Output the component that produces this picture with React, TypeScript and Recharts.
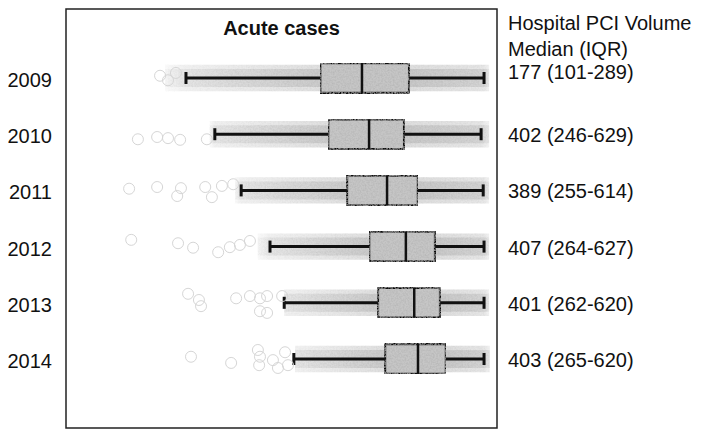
import React from 'react';
import { ComposedChart, XAxis, YAxis, Scatter, ReferenceArea, ReferenceLine } from 'recharts';

const title = 'Acute cases';
const years = ['2009', '2010', '2011', '2012', '2013', '2014'];
const rows = [1, 2, 3, 4, 5, 6];
const whiskerLow = [28.7, 35.6, 41.9, 48.8, 52.2, 54.5];
const quartile1 = [60.8, 62.7, 67.2, 72.5, 74.6, 76.3];
const medians = [70.8, 72.5, 76.8, 81.3, 83.3, 84.2];
const quartile3 = [82.1, 80.9, 84.2, 88.3, 89.5, 90.9];
const whiskerHigh = [100, 99.3, 99.8, 100, 100, 100];
const cloudStart = [23.7, 34.4, 40.4, 45.9, 52.2, 54.8];
const cloudEnd = [101.2, 101.2, 101.2, 101.2, 101.2, 101.4];
const headerLines = ['Hospital PCI Volume', 'Median (IQR)'];
const volumeLabels = ['177 (101-289)', '402 (246-629)', '389 (255-614)', '407 (264-627)', '401 (262-620)', '403 (265-620)'];
const outlierValues = [
  [22.5, 24.4, 26.3],
  [17.2, 21.8, 24.4, 27.3, 33.7],
  [15.1, 21.8, 27.5, 26.6, 33.3, 34.9, 37.3, 40.0],
  [15.6, 26.8, 30.4, 36.4, 39.2, 41.6, 44.0],
  [29.2, 31.8, 32.3, 40.7, 44.0, 46.4, 48.1, 46.4, 48.1, 51.7],
  [29.9, 39.5, 45.9, 46.4, 46.2, 49.5, 50.7, 52.4, 53.1],
];
const outlierJitter = [
  [-0.04, 0.04, -0.09],
  [0.09, 0.05, 0.07, 0.1, 0.09],
  [-0.03, -0.06, -0.04, 0.1, -0.06, 0.12, -0.08, -0.11],
  [-0.12, -0.06, 0.02, 0.1, 0.01, -0.03, -0.1],
  [-0.16, -0.05, 0.06, -0.08, -0.12, -0.08, -0.12, 0.15, 0.18, -0.12],
  [-0.04, 0.07, -0.16, -0.04, 0.11, 0.02, 0.16, -0.12, 0.11],
];

const X_DOMAIN: [number, number] = [0, 103.1];
const Y_DOMAIN: [number, number] = [-0.228, 7.228];
const FONT = '"Liberation Sans", Arial, Helvetica, sans-serif';
const BOX_HALF = 0.267;
const CAP_HALF = 0.107;
const CLOUD_OUTER = 0.235;
const CLOUD_INNER = 0.16;

const outlierData = rows.flatMap((r, i) =>
  outlierValues[i].map((v, j) => ({ x: v, y: r + outlierJitter[i][j] }))
);

const OpenCircle = (props: any) => {
  const { cx, cy } = props;
  if (cx == null || cy == null) return null;
  return <circle cx={cx} cy={cy} r={5.5} fill="none" stroke="#d6d6d6" strokeWidth={1} />;
};

const YearTick = (props: any) => {
  const { x, y, payload } = props;
  const idx = rows.indexOf(payload.value);
  if (idx < 0) return null;
  return (
    <text x={x - 3} y={y + 2} textAnchor="end" dominantBaseline="central" fontFamily={FONT} fontSize={20} fill="#111">
      {years[idx]}
    </text>
  );
};

const VolumeTick = (props: any) => {
  const { x, y, payload } = props;
  const idx = rows.indexOf(payload.value);
  if (idx < 0) return null;
  const common = { x, textAnchor: 'start' as const, dominantBaseline: 'central' as const, fontFamily: FONT, fontSize: 20, fill: '#111' };
  if (idx === 0) {
    return (
      <g>
        <text {...common} y={y - 55}>{headerLines[0]}</text>
        <text {...common} y={y - 29}>{headerLines[1]}</text>
        <text {...common} y={y - 6}>{volumeLabels[0]}</text>
      </g>
    );
  }
  return <text {...common} y={y + 1}>{volumeLabels[idx]}</text>;
};

function stopOffset(v: number, i: number) {
  const o = (v - cloudStart[i]) / (cloudEnd[i] - cloudStart[i]);
  return Math.max(0, Math.min(1, o));
}

export default function App() {
  return (
    <div style={{ position: 'absolute', left: 0, top: 0 }}>
      <ComposedChart width={706} height={438} margin={{ top: 9, right: 0, bottom: 10, left: 0 }}>
        <defs>
          {rows.map((r, i) => (
            <linearGradient key={r} id={`cloud${i}`} x1="0" y1="0" x2="1" y2="0">
              <stop offset={0} stopColor="#999" stopOpacity={0.05} />
              <stop offset={stopOffset(whiskerLow[i], i)} stopColor="#999" stopOpacity={0.14} />
              <stop offset={stopOffset(quartile1[i], i)} stopColor="#999" stopOpacity={0.3} />
              <stop offset={stopOffset(quartile3[i], i)} stopColor="#999" stopOpacity={0.32} />
              <stop offset={stopOffset(whiskerHigh[i], i)} stopColor="#999" stopOpacity={0.24} />
              <stop offset={1} stopColor="#999" stopOpacity={0.12} />
            </linearGradient>
          ))}
          <filter id="speckle" x="0" y="0" width="1" height="1">
            <feTurbulence type="fractalNoise" baseFrequency="0.6" numOctaves="2" seed="3" result="noise" />
            <feColorMatrix in="noise" type="matrix" values="0 0 0 0 0.45  0 0 0 0 0.45  0 0 0 0 0.45  0 0 0 1.5 -0.5" result="grain" />
            <feComposite in="grain" in2="SourceGraphic" operator="in" result="tex" />
            <feMerge>
              <feMergeNode in="SourceGraphic" />
              <feMergeNode in="tex" />
            </feMerge>
          </filter>
        </defs>
        <XAxis type="number" dataKey="x" domain={X_DOMAIN} hide allowDataOverflow />
        <YAxis
          yAxisId="left"
          type="number"
          dataKey="y"
          domain={Y_DOMAIN}
          reversed
          ticks={rows}
          width={66}
          axisLine={false}
          tickLine={false}
          tick={<YearTick />}
          tickMargin={5}
          allowDataOverflow
        />
        <YAxis
          yAxisId="right"
          orientation="right"
          type="number"
          domain={Y_DOMAIN}
          reversed
          ticks={rows}
          width={209}
          axisLine={false}
          tickLine={false}
          tick={<VolumeTick />}
          tickMargin={5}
          allowDataOverflow
        />
        {rows.map((r, i) => (
          <ReferenceArea
            key={`cloudo-${r}`}
            yAxisId="left"
            x1={cloudStart[i]}
            x2={cloudEnd[i]}
            y1={r - CLOUD_OUTER}
            y2={r + CLOUD_OUTER}
            fill={`url(#cloud${i})`}
            fillOpacity={1}
            stroke="none"
            filter="url(#speckle)"
            ifOverflow="visible"
          />
        ))}
        {rows.map((r, i) => (
          <ReferenceArea
            key={`cloudi-${r}`}
            yAxisId="left"
            x1={cloudStart[i]}
            x2={cloudEnd[i]}
            y1={r - CLOUD_INNER}
            y2={r + CLOUD_INNER}
            fill={`url(#cloud${i})`}
            fillOpacity={1}
            stroke="none"
            filter="url(#speckle)"
            ifOverflow="visible"
          />
        ))}
        <Scatter yAxisId="left" data={outlierData} shape={<OpenCircle />} isAnimationActive={false} />
        {rows.map((r, i) => (
          <ReferenceArea
            key={`box-${r}`}
            yAxisId="left"
            x1={quartile1[i]}
            x2={quartile3[i]}
            y1={r - BOX_HALF}
            y2={r + BOX_HALF}
            fill="#c6c6c6"
            fillOpacity={1}
            stroke="#111"
            strokeWidth={2.5}
            radius={2}
            filter="url(#speckle)"
            ifOverflow="visible"
          />
        ))}
        {rows.map((r, i) => (
          <ReferenceLine key={`wl-${r}`} yAxisId="left" segment={[{ x: whiskerLow[i], y: r }, { x: quartile1[i], y: r }]} stroke="#111" strokeWidth={3} ifOverflow="visible" />
        ))}
        {rows.map((r, i) => (
          <ReferenceLine key={`wh-${r}`} yAxisId="left" segment={[{ x: quartile3[i], y: r }, { x: whiskerHigh[i], y: r }]} stroke="#111" strokeWidth={3} ifOverflow="visible" />
        ))}
        {rows.map((r, i) => (
          <ReferenceLine key={`cl-${r}`} yAxisId="left" segment={[{ x: whiskerLow[i], y: r - CAP_HALF }, { x: whiskerLow[i], y: r + CAP_HALF }]} stroke="#111" strokeWidth={3} ifOverflow="visible" />
        ))}
        {rows.map((r, i) => (
          <ReferenceLine key={`ch-${r}`} yAxisId="left" segment={[{ x: whiskerHigh[i], y: r - CAP_HALF }, { x: whiskerHigh[i], y: r + CAP_HALF }]} stroke="#111" strokeWidth={3} ifOverflow="visible" />
        ))}
        {rows.map((r, i) => (
          <ReferenceLine key={`md-${r}`} yAxisId="left" segment={[{ x: medians[i], y: r - BOX_HALF }, { x: medians[i], y: r + BOX_HALF }]} stroke="#111" strokeWidth={2.5} ifOverflow="visible" />
        ))}
        <ReferenceArea
          yAxisId="left"
          x1={X_DOMAIN[0]}
          x2={X_DOMAIN[1]}
          y1={Y_DOMAIN[0]}
          y2={Y_DOMAIN[1]}
          fill="none"
          stroke="#222"
          strokeWidth={1.5}
          ifOverflow="visible"
          label={{ value: title, position: 'insideTop', offset: 12, fontFamily: FONT, fontSize: 20, fontWeight: 'bold', fill: '#111' }}
        />
      </ComposedChart>
    </div>
  );
}
